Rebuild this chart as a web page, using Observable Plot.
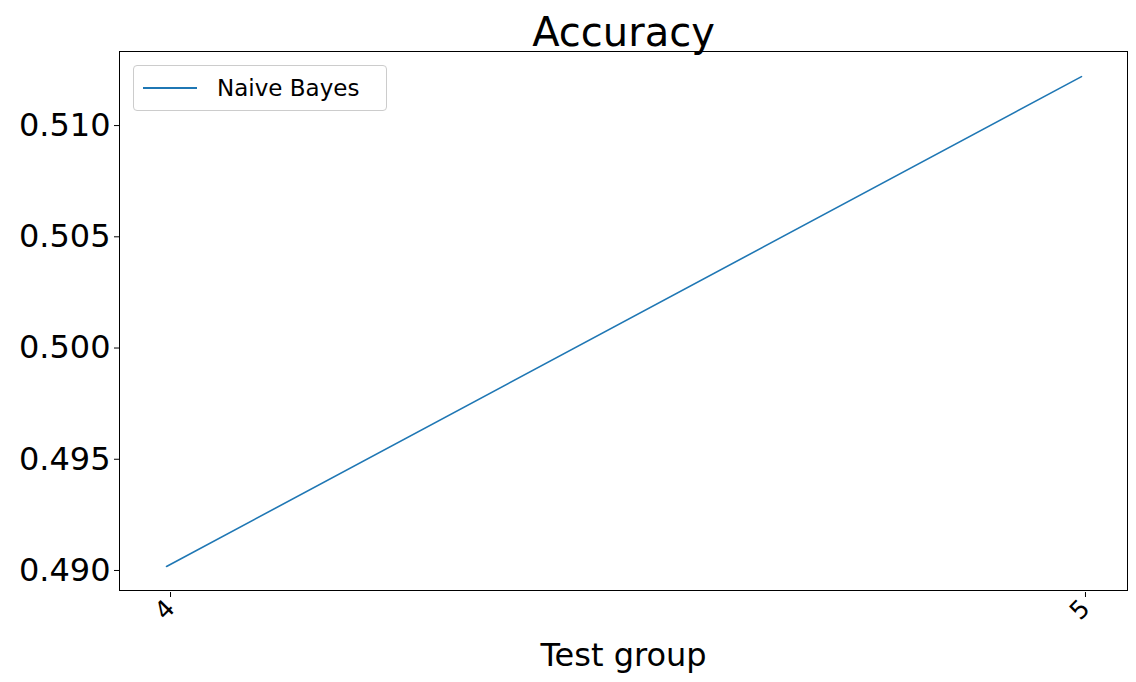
<!DOCTYPE html>
<html>
<head>
<meta charset="utf-8">
<script src="https://cdn.jsdelivr.net/npm/d3@7"></script>
<script src="https://cdn.jsdelivr.net/npm/@observablehq/plot@0.6"></script>
<style>
  body { margin: 0; background: #fff; font-family: "DejaVu Sans", sans-serif; }
  #chart { position: relative; width: 1136px; height: 682px; }
  .legend { position: absolute; left: 133px; top: 65px; width: 254px; height: 46px;
    border: 1px solid #ccc; border-radius: 4px; background: #fff; box-sizing: border-box;
    display: flex; align-items: center; font-size: 23px; }
  .legend span.sw { display: inline-block; width: 54px; height: 2px; background: #1f77b4; margin: 0 20px 0 9px; }
</style>
</head>
<body>
<div id="chart"></div>
<script>
const groups = [4, 5];
const accuracy = [0.49018, 0.5122];
const yTicks = [0.490, 0.495, 0.500, 0.505, 0.510];

const data = groups.map((g, i) => ({group: g, acc: accuracy[i]}));

const chart = Plot.plot({
  width: 1136,
  height: 682,
  marginTop: 51,
  marginBottom: 92,
  marginLeft: 119,
  marginRight: 9,
  style: {fontFamily: "DejaVu Sans, sans-serif", color: "#000", background: "#fff"},
  x: {domain: [3.9486, 5.0503], label: null},
  y: {domain: [0.4891, 0.51333], label: null},
  marks: [
    Plot.frame({stroke: "#000"}),
    Plot.axisX({ticks: groups, tickFormat: d3.format("d"), tickRotate: -45, fontSize: 25, tickSize: 5, label: null, textAnchor: "end", dx: 4, dy: 2}),
    Plot.axisY({ticks: yTicks, tickFormat: d3.format(".3f"), fontSize: 32, tickSize: 5, label: null}),
    Plot.line(data, {x: "group", y: "acc", stroke: "#1f77b4", strokeWidth: 1.6}),
    Plot.text(["Accuracy"], {frameAnchor: "top", lineAnchor: "bottom", dy: -6, fontSize: 40, fill: "#000"}),
    Plot.text(["Test group"], {frameAnchor: "bottom", lineAnchor: "middle", dy: 65, fontSize: 32, fill: "#000"})
  ]
});

d3.select("#chart").append(() => chart);
d3.select("#chart").append("div").attr("class", "legend")
  .html('<span class="sw"></span>Naive Bayes');
</script>
</body>
</html>
